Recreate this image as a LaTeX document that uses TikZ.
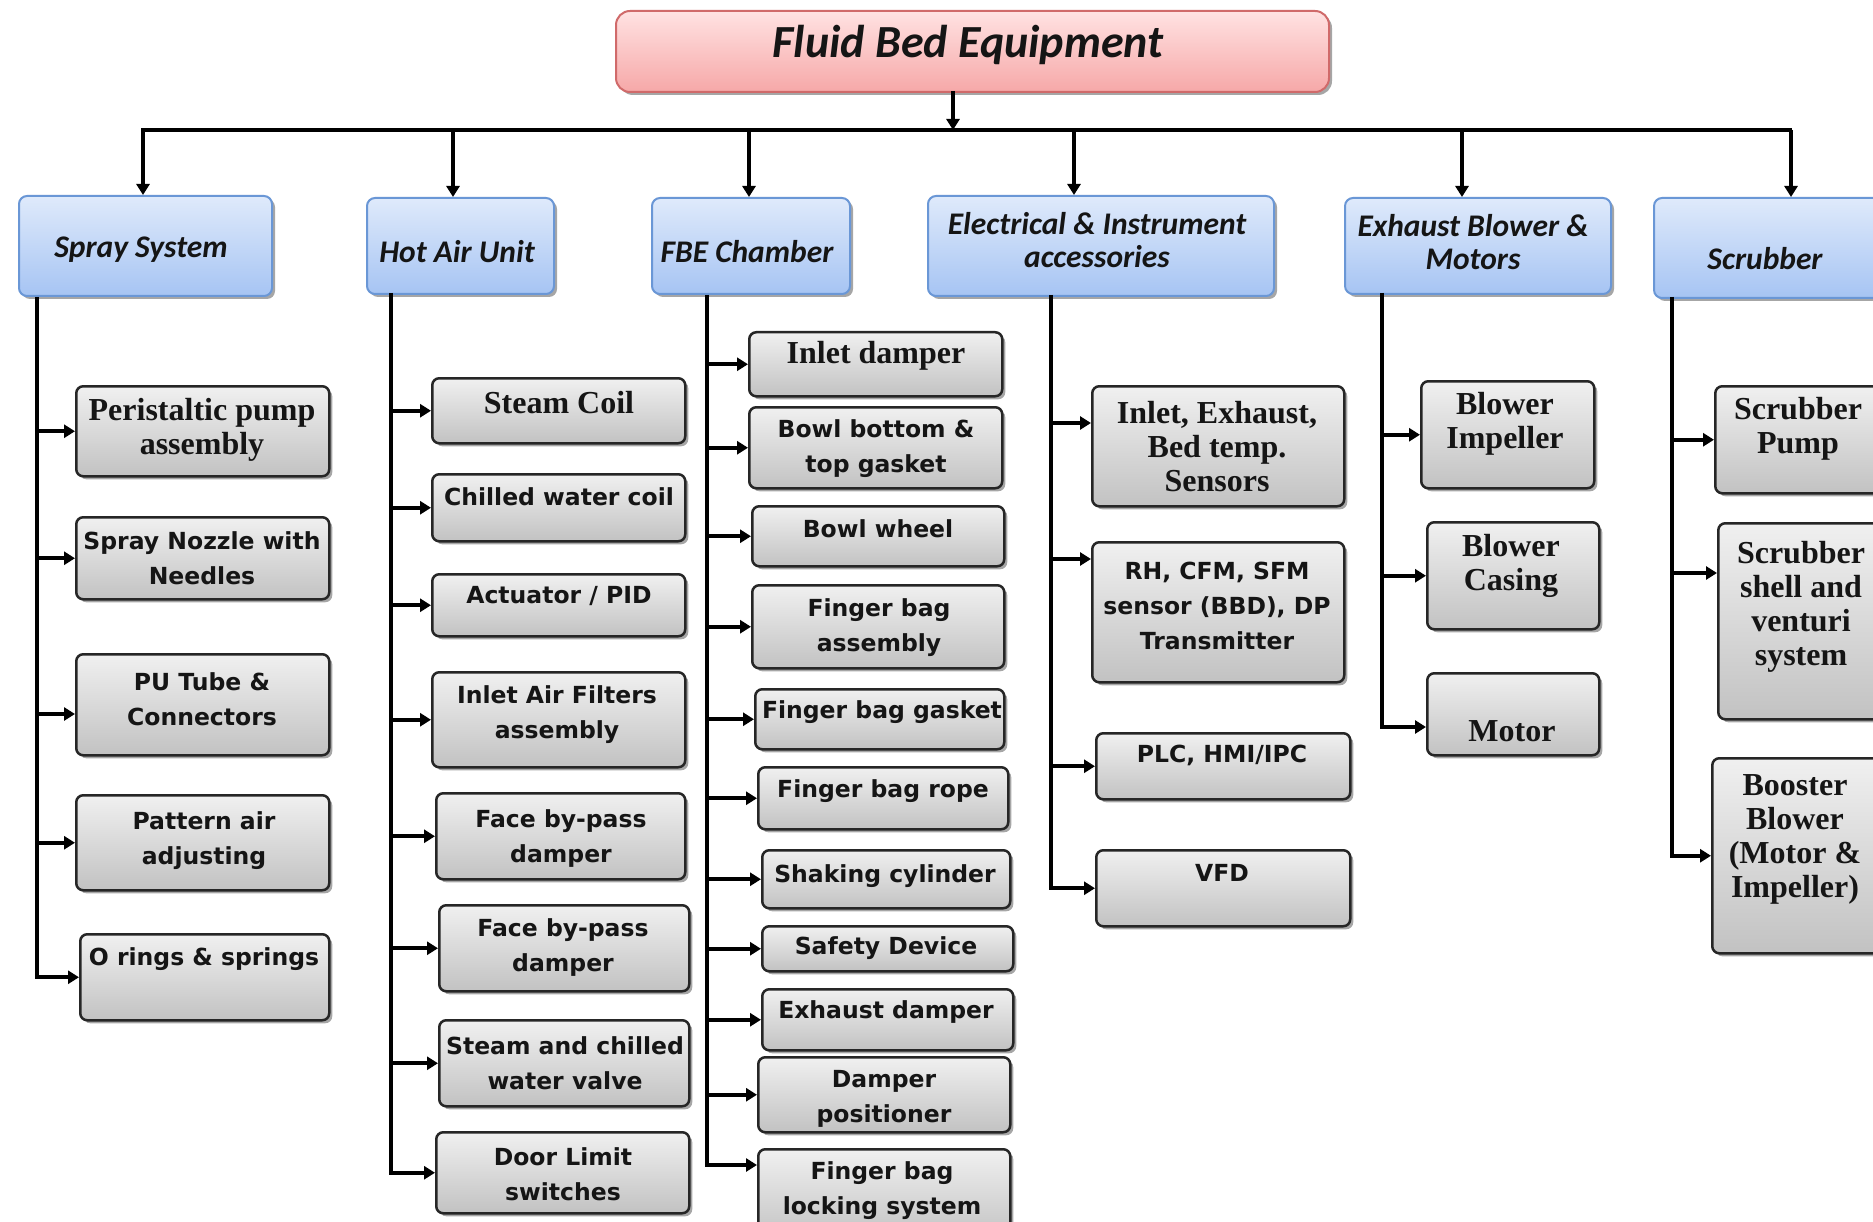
\documentclass[tikz,border=0pt]{standalone}
\usepackage{fontspec}
\setmainfont{Liberation Serif}
\newfontfamily\calfont{Carlito}
\newfontfamily\verfont{DejaVu Sans}
\usetikzlibrary{arrows.meta,shadows}
\definecolor{txtc}{HTML}{151515}
\definecolor{topA}{HTML}{FFE2E2}
\definecolor{topB}{HTML}{F6A8A8}
\definecolor{topD}{HTML}{D06A6A}
\definecolor{catA}{HTML}{DFEAFB}
\definecolor{catB}{HTML}{A6C4F3}
\definecolor{catD}{HTML}{6A97D6}
\definecolor{kidA}{HTML}{F0F0F0}
\definecolor{kidB}{HTML}{C2C2C2}
\tikzset{
  shd/.style={drop shadow={shadow xshift=3pt,shadow yshift=-3pt,opacity=.35,fill=black}},
  topbox/.style={shd,draw=topD,line width=2pt,rounded corners=14pt,top color=topA,bottom color=topB,inner sep=0pt},
  catbox/.style={shd,draw=catD,line width=2pt,rounded corners=8pt,top color=catA,bottom color=catB,inner sep=0pt},
  kidbox/.style={shd,draw=black!85,line width=2.5pt,rounded corners=7pt,top color=kidA,bottom color=kidB,inner sep=0pt},
  toptxt/.style={font={\calfont\bfseries\itshape\fontsize{46}{50}\selectfont},text=txtc,align=center,inner sep=0pt},
  cattxt/.style={font={\calfont\bfseries\itshape\fontsize{31.5}{33}\selectfont},text=txtc,align=center,inner sep=0pt},
  kidS/.style={font={\bfseries\fontsize{32}{34}\selectfont},text=txtc,align=center,inner sep=0pt},
  kidV/.style={font={\verfont\bfseries\fontsize{23.5}{35}\selectfont},text=txtc,align=center,inner sep=0pt},
  arr/.style={line width=4pt,-{Triangle[length=11pt,width=13pt]}},
  trunk/.style={line width=4pt},
}
% name, x1, y1, x2, y2, tx, ty, text style, text
\newcommand\kid[9]{%
  \node[kidbox,anchor=north west,minimum width={(#4-#2)*1pt},minimum height={(#5-#3)*1pt}] (#1) at (#2,#3) {};
  \node[#8] (#1-t) at (#6,#7) {#9};}
\newcommand\cat[8]{%
  \node[catbox,anchor=north west,minimum width={(#4-#2)*1pt},minimum height={(#5-#3)*1pt}] (#1) at (#2,#3) {};
  \node[cattxt] (#1-t) at (#6,#7) {#8};}
\begin{document}
\begin{tikzpicture}[x=1pt,y=-1pt]
\useasboundingbox (0,0) rectangle (1873,1222);
\clip (0,0) rectangle (1873,1222);
\fill[white] (0,0) rectangle (1873,1222);

% top
\node[topbox,anchor=north west,minimum width=713pt,minimum height=81pt] (top) at (615,10) {};
\node[toptxt] (top-t) at (968,45) {Fluid Bed Equipment};

% categories
\cat{cS}{18}{195}{271}{295}{141}{250}{Spray System}
\cat{cH}{366}{197}{553}{293}{457}{252}{Hot Air Unit}
\cat{cF}{651}{197}{849}{293}{747}{252}{FBE Chamber}
\cat{cE}{927}{195}{1273}{295}{1097}{240}{Electrical \& Instrument\\accessories}
\cat{cX}{1344}{197}{1610}{293}{1473}{242}{Exhaust Blower \&\\Motors}
\cat{cR}{1653}{197}{1900}{297}{1765}{259}{Scrubber}

% bus
\coordinate (busL) at (141,130);
\coordinate (busR) at (1792,130);
\coordinate (dT) at (953,91);
\coordinate (d1) at (143,130);
\coordinate (d2) at (453,130);
\coordinate (d3) at (749,130);
\coordinate (d4) at (1074,130);
\coordinate (d5) at (1462,130);
\coordinate (d6) at (1791,130);
\draw[line width=4.5pt] (busL) -- (busR);
\draw[arr] (dT) -- (dT |- busL);
\draw[arr] (d1) -- (d1 |- cS.north);
\draw[arr] (d2) -- (d2 |- cH.north);
\draw[arr] (d3) -- (d3 |- cF.north);
\draw[arr] (d4) -- (d4 |- cE.north);
\draw[arr] (d5) -- (d5 |- cX.north);
\draw[arr] (d6) -- (d6 |- cR.north);

% spray system
\kid{s1}{75}{385}{328}{475}{202}{430}{kidS}{Peristaltic pump\\assembly}
\kid{s2}{75}{516}{328}{598}{202}{558}{kidV}{Spray Nozzle with\\Needles}
\kid{s3}{75}{653}{328}{754}{202}{699}{kidV}{PU Tube \&\\Connectors}
\kid{s4}{75}{794}{328}{889}{204}{841}{kidV}{Pattern air\\adjusting}
\kid{s5}{79}{933}{328}{1019}{204}{959}{kidV}{O rings \& springs}

% hot air unit
\kid{h1}{431}{377}{684}{442}{559}{403}{kidS}{Steam Coil}
\kid{h2}{431}{473}{684}{540}{559}{497}{kidV}{Chilled water coil}
\kid{h3}{431}{573}{684}{635}{559}{596}{kidV}{Actuator / PID}
\kid{h4}{431}{671}{684}{766}{557}{715}{kidV}{Inlet Air Filters\\assembly}
\kid{h5}{435}{792}{684}{878}{561}{839}{kidV}{Face by-pass\\damper}
\kid{h6}{438}{904}{688}{990}{563}{948}{kidV}{Face by-pass\\damper}
\kid{h7}{438}{1019}{688}{1105}{565}{1063}{kidV}{Steam and chilled\\water valve}
\kid{h8}{435}{1131}{688}{1212}{563}{1174}{kidV}{Door Limit\\switches}

% FBE chamber
\kid{f1}{748}{331}{1001}{395}{876}{356}{kidS}{Inlet damper}
\kid{f2}{748}{406}{1001}{487}{876}{449}{kidV}{Bowl bottom \&\\top gasket}
\kid{f3}{751}{505}{1003}{565}{878}{529}{kidV}{Bowl wheel}
\kid{f4}{751}{584}{1003}{667}{879}{628}{kidV}{Finger bag\\assembly}
\kid{f5}{754}{688}{1003}{748}{882}{712}{kidV}{Finger bag gasket}
\kid{f6}{757}{766}{1007}{828}{883}{791}{kidV}{Finger bag rope}
\kid{f7}{761}{849}{1009}{907}{885}{876}{kidV}{Shaking cylinder}
\kid{f8}{761}{925}{1012}{970}{886}{948}{kidV}{Safety Device}
\kid{f9}{761}{988}{1012}{1049}{886}{1012}{kidV}{Exhaust damper}
\kid{f10}{757}{1056}{1009}{1131}{884}{1099}{kidV}{Damper\\positioner}
\kid{f11}{757}{1148}{1009}{1240}{882}{1191}{kidV}{Finger bag\\locking system}

% electrical
\kid{e1}{1091}{385}{1343}{505}{1217}{447}{kidS}{Inlet, Exhaust,\\Bed temp.\\Sensors}
\kid{e2}{1091}{541}{1343}{681}{1217}{606}{kidV}{RH, CFM, SFM\\sensor (BBD), DP\\Transmitter}
\kid{e3}{1095}{732}{1349}{798}{1222}{755}{kidV}{PLC, HMI/IPC}
\kid{e4}{1095}{849}{1349}{925}{1222}{873}{kidV}{VFD}

% exhaust blower
\kid{x1}{1420}{380}{1593}{487}{1505}{424}{kidS}{Blower\\Impeller}
\kid{x2}{1426}{521}{1598}{628}{1511}{566}{kidS}{Blower\\Casing}
\kid{x3}{1426}{672}{1598}{754}{1512}{731}{kidS}{Motor}

% scrubber
\kid{r1}{1714}{385}{1900}{492}{1798}{429}{kidS}{Scrubber\\Pump}
\kid{r2}{1717}{522}{1900}{718}{1801}{607}{kidS}{Scrubber\\shell and\\venturi\\system}
\kid{r3}{1711}{757}{1900}{952}{1795}{839}{kidS}{Booster\\Blower\\(Motor \&\\Impeller)}

% trunk start points
\coordinate (tS) at (37,297);
\coordinate (tH) at (391,293);
\coordinate (tF) at (707,295);
\coordinate (tE) at (1051,295);
\coordinate (tX) at (1382,293);
\coordinate (tR) at (1672,297);

% arrow targets off the box middle
\coordinate (s3a) at ([yshift=-61pt]s3.north west);
\coordinate (e1a) at ([yshift=-38pt]e1.north west);
\coordinate (e2a) at ([yshift=-18pt]e2.north west);
\coordinate (x3a) at ([yshift=-55pt]x3.north west);
\coordinate (r2a) at ([yshift=-51pt]r2.north west);
\coordinate (f11a) at ([yshift=-17pt]f11.north west);

% spray trunk
\draw[arr] (tS) |- (s5.west);
\draw[arr] (tS |- s1.west) -- (s1.west);
\draw[arr] (tS |- s2.west) -- (s2.west);
\draw[arr] (tS |- s3a) -- (s3a);
\draw[arr] (tS |- s4.west) -- (s4.west);

% hot air trunk
\draw[arr] (tH) |- (h8.west);
\foreach \k in {h1,h2,h3,h4,h5,h6,h7}{\draw[arr] (tH |- \k.west) -- (\k.west);}

% FBE trunk
\draw[arr] (tF) |- (f11a);
\foreach \k in {f1,f2,f3,f4,f5,f6,f7,f8,f9,f10}{\draw[arr] (tF |- \k.west) -- (\k.west);}

% electrical trunk
\draw[arr] (tE) |- (e4.west);
\draw[arr] (tE |- e1a) -- (e1a);
\draw[arr] (tE |- e2a) -- (e2a);
\draw[arr] (tE |- e3.west) -- (e3.west);

% exhaust trunk
\draw[arr] (tX) |- (x3a);
\draw[arr] (tX |- x1.west) -- (x1.west);
\draw[arr] (tX |- x2.west) -- (x2.west);

% scrubber trunk
\draw[arr] (tR) |- (r3.west);
\draw[arr] (tR |- r1.west) -- (r1.west);
\draw[arr] (tR |- r2a) -- (r2a);
\end{tikzpicture}
\end{document}
